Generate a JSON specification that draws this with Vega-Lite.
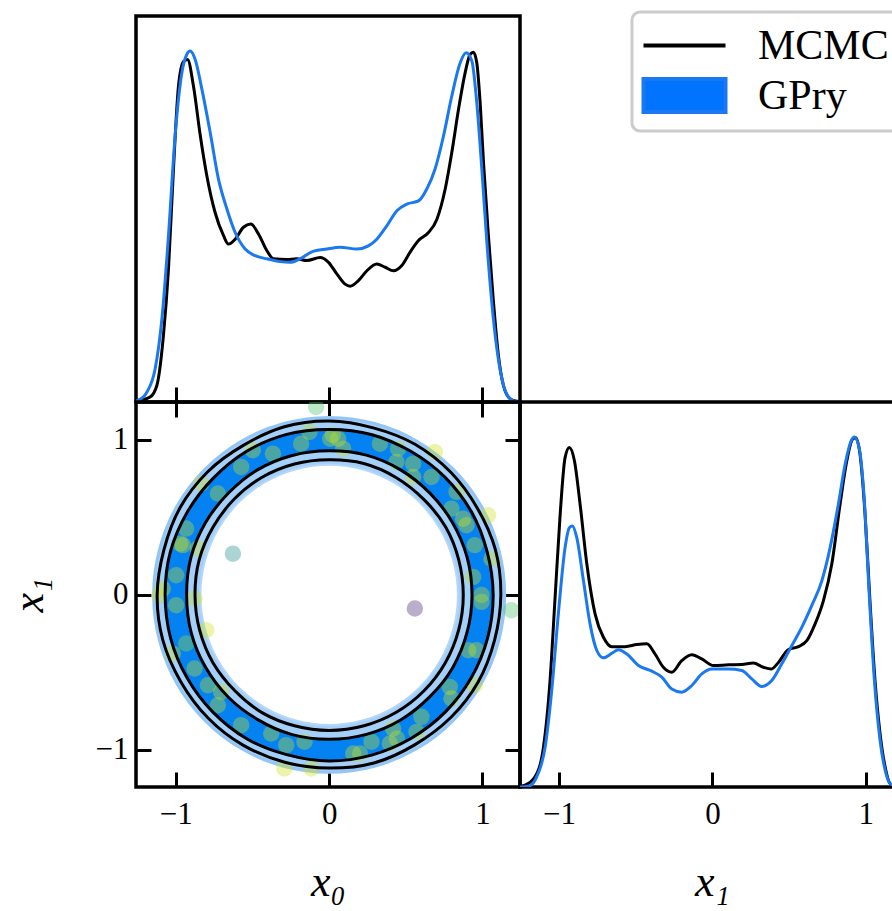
{
  "$schema": "https://vega.github.io/schema/vega-lite/v6.json",
  "background": "white",
  "padding": {"left": 5, "top": 8, "right": 0, "bottom": 0},
  "config": {
    "view": {"stroke": "black", "strokeWidth": 3.5},
    "axis": {"domain": false, "grid": false, "ticks": true, "tickColor": "black", "tickWidth": 3, "tickSize": -15, "format": ".0f",
      "labelFont": "Liberation Serif", "labelFontSize": 31, "labelColor": "black", "labelPadding": 27,
      "titleFont": "Liberation Serif", "titleFontSize": 44, "titleFontStyle": "italic", "titleFontWeight": "normal", "titleColor": "black", "titlePadding": 31}
  },
  "datasets": {
    "m0": [
      {"s":"MCMC","x":-1.255,"p":0.002},{"s":"MCMC","x":-1.233,"p":0.005},{"s":"MCMC","x":-1.168,"p":0.014},{"s":"MCMC","x":-1.124,"p":0.047},{"s":"MCMC","x":-1.081,"p":0.19},{"s":"MCMC","x":-1.048,"p":0.38},{"s":"MCMC","x":-1.016,"p":0.66},{"s":"MCMC","x":-0.983,"p":0.9},{"s":"MCMC","x":-0.95,"p":0.97},{"s":"MCMC","x":-0.924,"p":0.976},{"s":"MCMC","x":-0.885,"p":0.9},{"s":"MCMC","x":-0.841,"p":0.76},{"s":"MCMC","x":-0.798,"p":0.645},{"s":"MCMC","x":-0.744,"p":0.54},{"s":"MCMC","x":-0.689,"p":0.474},{"s":"MCMC","x":-0.657,"p":0.45},{"s":"MCMC","x":-0.613,"p":0.464},{"s":"MCMC","x":-0.559,"p":0.498},{"s":"MCMC","x":-0.511,"p":0.507},{"s":"MCMC","x":-0.461,"p":0.479},{"s":"MCMC","x":-0.406,"p":0.431},{"s":"MCMC","x":-0.363,"p":0.408},{"s":"MCMC","x":-0.276,"p":0.406},{"s":"MCMC","x":-0.211,"p":0.408},{"s":"MCMC","x":-0.145,"p":0.403},{"s":"MCMC","x":-0.059,"p":0.412},{"s":"MCMC","x":-0.004,"p":0.398},{"s":"MCMC","x":0.05,"p":0.365},{"s":"MCMC","x":0.104,"p":0.336},{"s":"MCMC","x":0.137,"p":0.33},{"s":"MCMC","x":0.191,"p":0.346},{"s":"MCMC","x":0.246,"p":0.374},{"s":"MCMC","x":0.311,"p":0.393},{"s":"MCMC","x":0.365,"p":0.384},{"s":"MCMC","x":0.42,"p":0.374},{"s":"MCMC","x":0.474,"p":0.389},{"s":"MCMC","x":0.528,"p":0.427},{"s":"MCMC","x":0.583,"p":0.46},{"s":"MCMC","x":0.648,"p":0.483},{"s":"MCMC","x":0.703,"p":0.521},{"s":"MCMC","x":0.757,"p":0.607},{"s":"MCMC","x":0.8,"p":0.711},{"s":"MCMC","x":0.844,"p":0.834},{"s":"MCMC","x":0.887,"p":0.938},{"s":"MCMC","x":0.92,"p":0.991},{"s":"MCMC","x":0.941,"p":0.997},{"s":"MCMC","x":0.963,"p":0.967},{"s":"MCMC","x":0.985,"p":0.853},{"s":"MCMC","x":1.007,"p":0.682},{"s":"MCMC","x":1.039,"p":0.474},{"s":"MCMC","x":1.072,"p":0.284},{"s":"MCMC","x":1.104,"p":0.133},{"s":"MCMC","x":1.137,"p":0.047},{"s":"MCMC","x":1.181,"p":0.009},{"s":"MCMC","x":1.225,"p":0.002},{"s":"MCMC","x":1.245,"p":0.001},
      {"s":"GPry","x":-1.26,"p":0.003},{"s":"GPry","x":-1.244,"p":0.005},{"s":"GPry","x":-1.189,"p":0.028},{"s":"GPry","x":-1.135,"p":0.095},{"s":"GPry","x":-1.091,"p":0.237},{"s":"GPry","x":-1.048,"p":0.474},{"s":"GPry","x":-1.005,"p":0.758},{"s":"GPry","x":-0.961,"p":0.938},{"s":"GPry","x":-0.928,"p":0.991},{"s":"GPry","x":-0.907,"p":1.0},{"s":"GPry","x":-0.874,"p":0.976},{"s":"GPry","x":-0.83,"p":0.891},{"s":"GPry","x":-0.776,"p":0.768},{"s":"GPry","x":-0.722,"p":0.635},{"s":"GPry","x":-0.667,"p":0.55},{"s":"GPry","x":-0.613,"p":0.483},{"s":"GPry","x":-0.548,"p":0.436},{"s":"GPry","x":-0.483,"p":0.417},{"s":"GPry","x":-0.406,"p":0.408},{"s":"GPry","x":-0.32,"p":0.4},{"s":"GPry","x":-0.254,"p":0.398},{"s":"GPry","x":-0.189,"p":0.408},{"s":"GPry","x":-0.113,"p":0.428},{"s":"GPry","x":-0.015,"p":0.436},{"s":"GPry","x":0.072,"p":0.441},{"s":"GPry","x":0.181,"p":0.436},{"s":"GPry","x":0.256,"p":0.445},{"s":"GPry","x":0.311,"p":0.464},{"s":"GPry","x":0.376,"p":0.502},{"s":"GPry","x":0.442,"p":0.545},{"s":"GPry","x":0.507,"p":0.564},{"s":"GPry","x":0.583,"p":0.573},{"s":"GPry","x":0.637,"p":0.607},{"s":"GPry","x":0.691,"p":0.664},{"s":"GPry","x":0.746,"p":0.758},{"s":"GPry","x":0.8,"p":0.872},{"s":"GPry","x":0.855,"p":0.967},{"s":"GPry","x":0.894,"p":0.995},{"s":"GPry","x":0.931,"p":0.972},{"s":"GPry","x":0.963,"p":0.853},{"s":"GPry","x":0.996,"p":0.664},{"s":"GPry","x":1.029,"p":0.455},{"s":"GPry","x":1.061,"p":0.284},{"s":"GPry","x":1.094,"p":0.152},{"s":"GPry","x":1.127,"p":0.066},{"s":"GPry","x":1.17,"p":0.014},{"s":"GPry","x":1.213,"p":0.002},{"s":"GPry","x":1.245,"p":0.001}
    ],
    "m1": [
      {"s":"MCMC","x":-1.255,"p":0.002},{"s":"MCMC","x":-1.222,"p":0.005},{"s":"MCMC","x":-1.157,"p":0.029},{"s":"MCMC","x":-1.102,"p":0.114},{"s":"MCMC","x":-1.059,"p":0.304},{"s":"MCMC","x":-1.026,"p":0.542},{"s":"MCMC","x":-0.993,"p":0.779},{"s":"MCMC","x":-0.961,"p":0.941},{"s":"MCMC","x":-0.933,"p":0.97},{"s":"MCMC","x":-0.9,"p":0.932},{"s":"MCMC","x":-0.863,"p":0.808},{"s":"MCMC","x":-0.819,"p":0.637},{"s":"MCMC","x":-0.765,"p":0.494},{"s":"MCMC","x":-0.711,"p":0.428},{"s":"MCMC","x":-0.656,"p":0.401},{"s":"MCMC","x":-0.569,"p":0.401},{"s":"MCMC","x":-0.493,"p":0.407},{"s":"MCMC","x":-0.428,"p":0.409},{"s":"MCMC","x":-0.374,"p":0.38},{"s":"MCMC","x":-0.32,"p":0.342},{"s":"MCMC","x":-0.265,"p":0.328},{"s":"MCMC","x":-0.2,"p":0.361},{"s":"MCMC","x":-0.134,"p":0.378},{"s":"MCMC","x":-0.069,"p":0.366},{"s":"MCMC","x":0.007,"p":0.347},{"s":"MCMC","x":0.105,"p":0.349},{"s":"MCMC","x":0.192,"p":0.35},{"s":"MCMC","x":0.267,"p":0.354},{"s":"MCMC","x":0.333,"p":0.342},{"s":"MCMC","x":0.383,"p":0.337},{"s":"MCMC","x":0.431,"p":0.356},{"s":"MCMC","x":0.496,"p":0.393},{"s":"MCMC","x":0.561,"p":0.401},{"s":"MCMC","x":0.616,"p":0.418},{"s":"MCMC","x":0.67,"p":0.466},{"s":"MCMC","x":0.724,"p":0.532},{"s":"MCMC","x":0.779,"p":0.637},{"s":"MCMC","x":0.833,"p":0.808},{"s":"MCMC","x":0.877,"p":0.932},{"s":"MCMC","x":0.913,"p":0.993},{"s":"MCMC","x":0.935,"p":0.998},{"s":"MCMC","x":0.963,"p":0.951},{"s":"MCMC","x":0.996,"p":0.779},{"s":"MCMC","x":1.029,"p":0.523},{"s":"MCMC","x":1.061,"p":0.304},{"s":"MCMC","x":1.094,"p":0.152},{"s":"MCMC","x":1.127,"p":0.057},{"s":"MCMC","x":1.159,"p":0.01},{"s":"MCMC","x":1.2,"p":0.002},{"s":"MCMC","x":1.25,"p":0.0},
      {"s":"GPry","x":-1.255,"p":0.0},{"s":"GPry","x":-1.2,"p":0.002},{"s":"GPry","x":-1.146,"p":0.029},{"s":"GPry","x":-1.091,"p":0.114},{"s":"GPry","x":-1.048,"p":0.276},{"s":"GPry","x":-1.005,"p":0.494},{"s":"GPry","x":-0.961,"p":0.684},{"s":"GPry","x":-0.933,"p":0.741},{"s":"GPry","x":-0.913,"p":0.746},{"s":"GPry","x":-0.885,"p":0.713},{"s":"GPry","x":-0.841,"p":0.589},{"s":"GPry","x":-0.798,"p":0.466},{"s":"GPry","x":-0.754,"p":0.39},{"s":"GPry","x":-0.711,"p":0.369},{"s":"GPry","x":-0.656,"p":0.382},{"s":"GPry","x":-0.613,"p":0.392},{"s":"GPry","x":-0.558,"p":0.38},{"s":"GPry","x":-0.482,"p":0.347},{"s":"GPry","x":-0.395,"p":0.331},{"s":"GPry","x":-0.33,"p":0.314},{"s":"GPry","x":-0.265,"p":0.28},{"s":"GPry","x":-0.2,"p":0.271},{"s":"GPry","x":-0.134,"p":0.29},{"s":"GPry","x":-0.069,"p":0.323},{"s":"GPry","x":-0.004,"p":0.337},{"s":"GPry","x":0.105,"p":0.337},{"s":"GPry","x":0.192,"p":0.333},{"s":"GPry","x":0.257,"p":0.309},{"s":"GPry","x":0.322,"p":0.287},{"s":"GPry","x":0.387,"p":0.304},{"s":"GPry","x":0.453,"p":0.352},{"s":"GPry","x":0.518,"p":0.404},{"s":"GPry","x":0.583,"p":0.456},{"s":"GPry","x":0.648,"p":0.518},{"s":"GPry","x":0.714,"p":0.589},{"s":"GPry","x":0.768,"p":0.684},{"s":"GPry","x":0.822,"p":0.808},{"s":"GPry","x":0.866,"p":0.922},{"s":"GPry","x":0.905,"p":0.989},{"s":"GPry","x":0.926,"p":1.0},{"s":"GPry","x":0.957,"p":0.97},{"s":"GPry","x":0.99,"p":0.827},{"s":"GPry","x":1.022,"p":0.561},{"s":"GPry","x":1.057,"p":0.304},{"s":"GPry","x":1.094,"p":0.133},{"s":"GPry","x":1.127,"p":0.048},{"s":"GPry","x":1.159,"p":0.01},{"s":"GPry","x":1.2,"p":0.002},{"s":"GPry","x":1.25,"p":0.0}
    ],
    "rings": [
      {"r":"g2o","i":0,"x":1.145,"y":0},{"r":"g2o","i":1,"x":1.106,"y":0.296},{"r":"g2o","i":2,"x":0.992,"y":0.573},{"r":"g2o","i":3,"x":0.81,"y":0.81},{"r":"g2o","i":4,"x":0.573,"y":0.992},{"r":"g2o","i":5,"x":0.296,"y":1.106},{"r":"g2o","i":6,"x":0,"y":1.145},{"r":"g2o","i":7,"x":-0.296,"y":1.106},{"r":"g2o","i":8,"x":-0.573,"y":0.992},{"r":"g2o","i":9,"x":-0.81,"y":0.81},{"r":"g2o","i":10,"x":-0.992,"y":0.573},{"r":"g2o","i":11,"x":-1.106,"y":0.296},{"r":"g2o","i":12,"x":-1.145,"y":0},{"r":"g2o","i":13,"x":-1.106,"y":-0.296},{"r":"g2o","i":14,"x":-0.992,"y":-0.573},{"r":"g2o","i":15,"x":-0.81,"y":-0.81},{"r":"g2o","i":16,"x":-0.573,"y":-0.992},{"r":"g2o","i":17,"x":-0.296,"y":-1.106},{"r":"g2o","i":18,"x":0,"y":-1.145},{"r":"g2o","i":19,"x":0.296,"y":-1.106},{"r":"g2o","i":20,"x":0.573,"y":-0.992},{"r":"g2o","i":21,"x":0.81,"y":-0.81},{"r":"g2o","i":22,"x":0.992,"y":-0.573},{"r":"g2o","i":23,"x":1.106,"y":-0.296},
      {"r":"g1o","i":0,"x":1.075,"y":0},{"r":"g1o","i":1,"x":1.038,"y":0.278},{"r":"g1o","i":2,"x":0.931,"y":0.538},{"r":"g1o","i":3,"x":0.76,"y":0.76},{"r":"g1o","i":4,"x":0.538,"y":0.931},{"r":"g1o","i":5,"x":0.278,"y":1.038},{"r":"g1o","i":6,"x":0,"y":1.075},{"r":"g1o","i":7,"x":-0.278,"y":1.038},{"r":"g1o","i":8,"x":-0.538,"y":0.931},{"r":"g1o","i":9,"x":-0.76,"y":0.76},{"r":"g1o","i":10,"x":-0.931,"y":0.538},{"r":"g1o","i":11,"x":-1.038,"y":0.278},{"r":"g1o","i":12,"x":-1.075,"y":0},{"r":"g1o","i":13,"x":-1.038,"y":-0.278},{"r":"g1o","i":14,"x":-0.931,"y":-0.538},{"r":"g1o","i":15,"x":-0.76,"y":-0.76},{"r":"g1o","i":16,"x":-0.538,"y":-0.931},{"r":"g1o","i":17,"x":-0.278,"y":-1.038},{"r":"g1o","i":18,"x":0,"y":-1.075},{"r":"g1o","i":19,"x":0.278,"y":-1.038},{"r":"g1o","i":20,"x":0.538,"y":-0.931},{"r":"g1o","i":21,"x":0.76,"y":-0.76},{"r":"g1o","i":22,"x":0.931,"y":-0.538},{"r":"g1o","i":23,"x":1.038,"y":-0.278},
      {"r":"g1i","i":0,"x":0.93,"y":0},{"r":"g1i","i":1,"x":0.898,"y":0.241},{"r":"g1i","i":2,"x":0.805,"y":0.465},{"r":"g1i","i":3,"x":0.658,"y":0.658},{"r":"g1i","i":4,"x":0.465,"y":0.805},{"r":"g1i","i":5,"x":0.241,"y":0.898},{"r":"g1i","i":6,"x":0,"y":0.93},{"r":"g1i","i":7,"x":-0.241,"y":0.898},{"r":"g1i","i":8,"x":-0.465,"y":0.805},{"r":"g1i","i":9,"x":-0.658,"y":0.658},{"r":"g1i","i":10,"x":-0.805,"y":0.465},{"r":"g1i","i":11,"x":-0.898,"y":0.241},{"r":"g1i","i":12,"x":-0.93,"y":0},{"r":"g1i","i":13,"x":-0.898,"y":-0.241},{"r":"g1i","i":14,"x":-0.805,"y":-0.465},{"r":"g1i","i":15,"x":-0.658,"y":-0.658},{"r":"g1i","i":16,"x":-0.465,"y":-0.805},{"r":"g1i","i":17,"x":-0.241,"y":-0.898},{"r":"g1i","i":18,"x":0,"y":-0.93},{"r":"g1i","i":19,"x":0.241,"y":-0.898},{"r":"g1i","i":20,"x":0.465,"y":-0.805},{"r":"g1i","i":21,"x":0.658,"y":-0.658},{"r":"g1i","i":22,"x":0.805,"y":-0.465},{"r":"g1i","i":23,"x":0.898,"y":-0.241},
      {"r":"g2i","i":0,"x":0.84,"y":0},{"r":"g2i","i":1,"x":0.811,"y":0.217},{"r":"g2i","i":2,"x":0.727,"y":0.42},{"r":"g2i","i":3,"x":0.594,"y":0.594},{"r":"g2i","i":4,"x":0.42,"y":0.727},{"r":"g2i","i":5,"x":0.217,"y":0.811},{"r":"g2i","i":6,"x":0,"y":0.84},{"r":"g2i","i":7,"x":-0.217,"y":0.811},{"r":"g2i","i":8,"x":-0.42,"y":0.727},{"r":"g2i","i":9,"x":-0.594,"y":0.594},{"r":"g2i","i":10,"x":-0.727,"y":0.42},{"r":"g2i","i":11,"x":-0.811,"y":0.217},{"r":"g2i","i":12,"x":-0.84,"y":0},{"r":"g2i","i":13,"x":-0.811,"y":-0.217},{"r":"g2i","i":14,"x":-0.727,"y":-0.42},{"r":"g2i","i":15,"x":-0.594,"y":-0.594},{"r":"g2i","i":16,"x":-0.42,"y":-0.727},{"r":"g2i","i":17,"x":-0.217,"y":-0.811},{"r":"g2i","i":18,"x":0,"y":-0.84},{"r":"g2i","i":19,"x":0.217,"y":-0.811},{"r":"g2i","i":20,"x":0.42,"y":-0.727},{"r":"g2i","i":21,"x":0.594,"y":-0.594},{"r":"g2i","i":22,"x":0.727,"y":-0.42},{"r":"g2i","i":23,"x":0.811,"y":-0.217},
      {"r":"m2o","i":0,"x":1.12,"y":0},{"r":"m2o","i":1,"x":1.085,"y":0.29},{"r":"m2o","i":2,"x":0.968,"y":0.558},{"r":"m2o","i":3,"x":0.795,"y":0.79},{"r":"m2o","i":4,"x":0.56,"y":0.972},{"r":"m2o","i":5,"x":0.288,"y":1.078},{"r":"m2o","i":6,"x":0,"y":1.122},{"r":"m2o","i":7,"x":-0.292,"y":1.085},{"r":"m2o","i":8,"x":-0.56,"y":0.965},{"r":"m2o","i":9,"x":-0.792,"y":0.795},{"r":"m2o","i":10,"x":-0.973,"y":0.562},{"r":"m2o","i":11,"x":-1.078,"y":0.29},{"r":"m2o","i":12,"x":-1.122,"y":0},{"r":"m2o","i":13,"x":-1.085,"y":-0.292},{"r":"m2o","i":14,"x":-0.968,"y":-0.56},{"r":"m2o","i":15,"x":-0.79,"y":-0.795},{"r":"m2o","i":16,"x":-0.562,"y":-0.97},{"r":"m2o","i":17,"x":-0.29,"y":-1.08},{"r":"m2o","i":18,"x":0,"y":-1.118},{"r":"m2o","i":19,"x":0.292,"y":-1.085},{"r":"m2o","i":20,"x":0.558,"y":-0.968},{"r":"m2o","i":21,"x":0.795,"y":-0.79},{"r":"m2o","i":22,"x":0.972,"y":-0.562},{"r":"m2o","i":23,"x":1.08,"y":-0.288},
      {"r":"m1o","i":0,"x":1.07,"y":0},{"r":"m1o","i":1,"x":1.031,"y":0.277},{"r":"m1o","i":2,"x":0.93,"y":0.533},{"r":"m1o","i":3,"x":0.755,"y":0.76},{"r":"m1o","i":4,"x":0.535,"y":0.925},{"r":"m1o","i":5,"x":0.28,"y":1.034},{"r":"m1o","i":6,"x":0,"y":1.068},{"r":"m1o","i":7,"x":-0.277,"y":1.036},{"r":"m1o","i":8,"x":-0.538,"y":0.927},{"r":"m1o","i":9,"x":-0.757,"y":0.752},{"r":"m1o","i":10,"x":-0.925,"y":0.535},{"r":"m1o","i":11,"x":-1.036,"y":0.277},{"r":"m1o","i":12,"x":-1.07,"y":0},{"r":"m1o","i":13,"x":-1.034,"y":-0.28},{"r":"m1o","i":14,"x":-0.927,"y":-0.535},{"r":"m1o","i":15,"x":-0.76,"y":-0.755},{"r":"m1o","i":16,"x":-0.535,"y":-0.93},{"r":"m1o","i":17,"x":-0.277,"y":-1.031},{"r":"m1o","i":18,"x":0,"y":-1.072},{"r":"m1o","i":19,"x":0.277,"y":-1.034},{"r":"m1o","i":20,"x":0.533,"y":-0.927},{"r":"m1o","i":21,"x":0.757,"y":-0.757},{"r":"m1o","i":22,"x":0.927,"y":-0.535},{"r":"m1o","i":23,"x":1.034,"y":-0.277},
      {"r":"m1i","i":0,"x":0.932,"y":0},{"r":"m1i","i":1,"x":0.9,"y":0.243},{"r":"m1i","i":2,"x":0.805,"y":0.466},{"r":"m1i","i":3,"x":0.659,"y":0.655},{"r":"m1i","i":4,"x":0.466,"y":0.807},{"r":"m1i","i":5,"x":0.243,"y":0.902},{"r":"m1i","i":6,"x":0,"y":0.93},{"r":"m1i","i":7,"x":-0.241,"y":0.9},{"r":"m1i","i":8,"x":-0.468,"y":0.807},{"r":"m1i","i":9,"x":-0.655,"y":0.659},{"r":"m1i","i":10,"x":-0.807,"y":0.466},{"r":"m1i","i":11,"x":-0.902,"y":0.241},{"r":"m1i","i":12,"x":-0.93,"y":0},{"r":"m1i","i":13,"x":-0.9,"y":-0.243},{"r":"m1i","i":14,"x":-0.807,"y":-0.466},{"r":"m1i","i":15,"x":-0.659,"y":-0.659},{"r":"m1i","i":16,"x":-0.466,"y":-0.805},{"r":"m1i","i":17,"x":-0.241,"y":-0.902},{"r":"m1i","i":18,"x":0,"y":-0.932},{"r":"m1i","i":19,"x":0.243,"y":-0.9},{"r":"m1i","i":20,"x":0.466,"y":-0.807},{"r":"m1i","i":21,"x":0.659,"y":-0.655},{"r":"m1i","i":22,"x":0.807,"y":-0.468},{"r":"m1i","i":23,"x":0.9,"y":-0.241},
      {"r":"m2i","i":0,"x":0.875,"y":0},{"r":"m2i","i":1,"x":0.845,"y":0.228},{"r":"m2i","i":2,"x":0.76,"y":0.438},{"r":"m2i","i":3,"x":0.619,"y":0.615},{"r":"m2i","i":4,"x":0.436,"y":0.758},{"r":"m2i","i":5,"x":0.226,"y":0.848},{"r":"m2i","i":6,"x":0,"y":0.872},{"r":"m2i","i":7,"x":-0.226,"y":0.845},{"r":"m2i","i":8,"x":-0.44,"y":0.758},{"r":"m2i","i":9,"x":-0.619,"y":0.619},{"r":"m2i","i":10,"x":-0.758,"y":0.436},{"r":"m2i","i":11,"x":-0.848,"y":0.226},{"r":"m2i","i":12,"x":-0.875,"y":0},{"r":"m2i","i":13,"x":-0.845,"y":-0.228},{"r":"m2i","i":14,"x":-0.758,"y":-0.438},{"r":"m2i","i":15,"x":-0.615,"y":-0.619},{"r":"m2i","i":16,"x":-0.438,"y":-0.76},{"r":"m2i","i":17,"x":-0.226,"y":-0.845},{"r":"m2i","i":18,"x":0,"y":-0.875},{"r":"m2i","i":19,"x":0.228,"y":-0.845},{"r":"m2i","i":20,"x":0.438,"y":-0.758},{"r":"m2i","i":21,"x":0.619,"y":-0.619},{"r":"m2i","i":22,"x":0.758,"y":-0.438},{"r":"m2i","i":23,"x":0.845,"y":-0.226}
    ],
    "dots": [
      {"x":-0.085,"y":1.213,"v":0.72},{"x":-0.128,"y":1.052,"v":0.9},{"x":-0.183,"y":0.976,"v":0.9},{"x":0.024,"y":1.032,"v":0.9},{"x":-0.367,"y":0.912,"v":0.9},{"x":-0.498,"y":0.934,"v":0.92},{"x":-0.574,"y":0.826,"v":0.9},{"x":-0.726,"y":0.654,"v":0.9},{"x":-0.835,"y":0.718,"v":0.93},{"x":-0.933,"y":0.428,"v":0.9},{"x":-0.954,"y":0.321,"v":0.93},{"x":-0.857,"y":0.299,"v":0.93},{"x":-0.628,"y":0.266,"v":0.5},{"x":-0.998,"y":0.127,"v":0.9},{"x":-1.085,"y":0.041,"v":0.93},
      {"x":0.059,"y":1.008,"v":0.9},{"x":0.091,"y":0.944,"v":0.93},{"x":0.331,"y":0.976,"v":0.9},{"x":0.45,"y":0.944,"v":0.9},{"x":0.689,"y":0.923,"v":0.93},{"x":0.439,"y":0.858,"v":0.9},{"x":0.548,"y":0.847,"v":0.9},{"x":0.548,"y":0.761,"v":0.93},{"x":0.668,"y":0.761,"v":0.9},{"x":0.831,"y":0.665,"v":0.9},{"x":0.798,"y":0.557,"v":0.9},{"x":0.874,"y":0.492,"v":0.93},{"x":1.037,"y":0.514,"v":0.93},{"x":0.896,"y":0.45,"v":0.93},{"x":0.95,"y":0.321,"v":0.9},{"x":1.059,"y":0.234,"v":0.93},{"x":0.939,"y":0.116,"v":0.9},{"x":0.994,"y":0.0,"v":0.9},
      {"x":-1.107,"y":-0.002,"v":0.93},{"x":-0.998,"y":-0.067,"v":0.9},{"x":-0.878,"y":-0.024,"v":0.93},{"x":-0.802,"y":-0.228,"v":0.93},{"x":-0.933,"y":-0.314,"v":0.85},{"x":-1.02,"y":-0.379,"v":0.93},{"x":-0.878,"y":-0.475,"v":0.9},{"x":-0.791,"y":-0.583,"v":0.9},{"x":-0.705,"y":-0.626,"v":0.93},{"x":-0.726,"y":-0.712,"v":0.9},{"x":-0.574,"y":-0.841,"v":0.9},{"x":-0.378,"y":-0.895,"v":0.9},{"x":-0.28,"y":-0.97,"v":0.9},{"x":-0.161,"y":-0.948,"v":0.9},{"x":-0.292,"y":-1.121,"v":0.93},{"x":-0.117,"y":-1.121,"v":0.93},
      {"x":0.559,"y":-0.088,"v":0.12},{"x":1.189,"y":-0.099,"v":0.72},{"x":0.994,"y":-0.045,"v":0.9},{"x":0.961,"y":-0.357,"v":0.93},{"x":0.907,"y":-0.357,"v":0.9},{"x":0.95,"y":-0.583,"v":0.93},{"x":0.787,"y":-0.594,"v":0.9},{"x":0.798,"y":-0.669,"v":0.93},{"x":0.602,"y":-0.787,"v":0.9},{"x":0.417,"y":-0.862,"v":0.93},{"x":0.57,"y":-0.884,"v":0.9},{"x":0.396,"y":-0.959,"v":0.93},{"x":0.276,"y":-0.948,"v":0.9},{"x":0.157,"y":-1.024,"v":0.93},{"x":0.202,"y":-1.024,"v":0.9},{"x":0.442,"y":-0.927,"v":0.9},{"x":0.007,"y":1.008,"v":0.9},{"x":-0.972,"y":0.331,"v":0.9}
    ]
  },
  "resolve": {"scale": {"color": "independent"}, "legend": {"color": "independent"}},
  "spacing": 0,
  "bounds": "flush",
  "vconcat": [
    {
      "width": 384, "height": 386,
      "data": {"name": "m0"},
      "layer": [
        {
          "transform": [{"filter": "datum.s === 'MCMC'"}],
          "mark": {"type": "line", "interpolate": "monotone", "strokeWidth": 3, "clip": true},
          "encoding": {
            "x": {"field": "x", "type": "quantitative", "scale": {"domain": [-1.26, 1.245], "nice": false, "zero": false}, "axis": {"values": [-1, 0, 1], "labels": false, "title": null}},
            "y": {"field": "p", "type": "quantitative", "scale": {"domain": [0, 1.1], "nice": false}, "axis": null},
            "color": {"field": "s", "type": "nominal", "scale": {"domain": ["MCMC", "GPry"], "range": ["black", "#1a78f0"]},
              "legend": {"orient": "none", "legendX": 496, "legendY": -4, "title": null, "direction": "vertical",
                "labelFont": "Liberation Serif", "labelFontSize": 42, "labelColor": "black", "labelLimit": 400,
                "symbolSize": 1681, "symbolStrokeWidth": 4, "symbolOffset": 19, "labelOffset": 51,
                "padding": 11, "rowPadding": 4, "strokeColor": "#cccccc", "fillColor": "white", "cornerRadius": 8,
                "encode": {
                  "legend": {"update": {"strokeWidth": {"value": 3}}},
                  "symbols": {"update": {
                    "shape": {"signal": "datum.value === 'GPry' ? 'M-2,-0.8H2V0.8H-2Z' : 'M-2,0H2'"},
                    "fill": {"signal": "datum.value === 'GPry' ? '#0073ff' : 'transparent'"},
                    "stroke": {"signal": "datum.value === 'GPry' ? 'transparent' : 'black'"},
                    "opacity": {"value": 1}
                  }}
                }}}
          }
        },
        {
          "transform": [{"filter": "datum.s === 'GPry'"}],
          "mark": {"type": "line", "interpolate": "monotone", "strokeWidth": 3, "clip": true},
          "encoding": {
            "x": {"field": "x", "type": "quantitative"},
            "y": {"field": "p", "type": "quantitative"},
            "color": {"field": "s", "type": "nominal"}
          }
        }
      ]
    },
    {
      "spacing": 0,
      "bounds": "flush",
      "hconcat": [
        {
          "width": 384, "height": 385,
          "resolve": {"axis": {"x": "independent", "y": "independent"}},
          "layer": [
            {
              "data": {"name": "rings"},
              "transform": [{"filter": "datum.r === 'g2o'"}],
              "mark": {"type": "line", "interpolate": "cardinal-closed", "fill": "#a3cff8", "stroke": "#93c6f6", "strokeWidth": 3, "clip": true},
              "encoding": {
                "x": {"field": "x", "type": "quantitative", "scale": {"domain": [-1.26, 1.245], "nice": false, "zero": false}, "axis": {"values": [-1, 0, 1], "title": "x₀", "orient": "bottom"}},
                "y": {"field": "y", "type": "quantitative", "scale": {"domain": [-1.24, 1.245], "nice": false, "zero": false}, "axis": {"values": [-1, 0, 1], "title": "x₁", "orient": "left", "labelPadding": 23, "titlePadding": 44}},
                "order": {"field": "i", "type": "quantitative"}
              }
            },
            {
              "data": {"name": "rings"},
              "transform": [{"filter": "datum.r === 'g1o'"}],
              "mark": {"type": "line", "interpolate": "cardinal-closed", "fill": "#0582f2", "stroke": null, "clip": true},
              "encoding": {
                "x": {"field": "x", "type": "quantitative", "axis": null},
                "y": {"field": "y", "type": "quantitative", "axis": null},
                "order": {"field": "i", "type": "quantitative"}
              }
            },
            {
              "data": {"name": "rings"},
              "transform": [{"filter": "datum.r === 'g1i'"}],
              "mark": {"type": "line", "interpolate": "cardinal-closed", "fill": "#a3cff8", "stroke": null, "clip": true},
              "encoding": {
                "x": {"field": "x", "type": "quantitative", "axis": null},
                "y": {"field": "y", "type": "quantitative", "axis": null},
                "order": {"field": "i", "type": "quantitative"}
              }
            },
            {
              "data": {"name": "rings"},
              "transform": [{"filter": "datum.r === 'g2i'"}],
              "mark": {"type": "line", "interpolate": "cardinal-closed", "fill": "white", "stroke": "#b5d8f9", "strokeWidth": 2, "clip": true},
              "encoding": {
                "x": {"field": "x", "type": "quantitative", "axis": null},
                "y": {"field": "y", "type": "quantitative", "axis": null},
                "order": {"field": "i", "type": "quantitative"}
              }
            },
            {
              "data": {"name": "dots"},
              "mark": {"type": "circle", "size": 270, "opacity": 0.38, "clip": true},
              "encoding": {
                "x": {"field": "x", "type": "quantitative", "axis": null},
                "y": {"field": "y", "type": "quantitative", "axis": null},
                "color": {"field": "v", "type": "quantitative", "scale": {"scheme": "viridis", "domain": [0, 1]}, "legend": null}
              }
            },
            {
              "data": {"name": "rings"},
              "transform": [{"filter": "indexof(datum.r, 'm') === 0"}],
              "mark": {"type": "line", "interpolate": "cardinal-closed", "stroke": "black", "strokeWidth": 3, "clip": true},
              "encoding": {
                "x": {"field": "x", "type": "quantitative", "axis": {"values": [-1, 0, 1], "labels": false, "title": null, "orient": "top"}},
                "y": {"field": "y", "type": "quantitative", "axis": {"values": [-1, 0, 1], "labels": false, "title": null, "orient": "right"}},
                "detail": {"field": "r", "type": "nominal"},
                "order": {"field": "i", "type": "quantitative"}
              }
            }
          ]
        },
        {
          "width": 384, "height": 385,
          "data": {"name": "m1"},
          "layer": [
            {
              "transform": [{"filter": "datum.s === 'MCMC'"}],
              "mark": {"type": "line", "interpolate": "monotone", "strokeWidth": 3, "clip": true},
              "encoding": {
                "x": {"field": "x", "type": "quantitative", "scale": {"domain": [-1.255, 1.25], "nice": false, "zero": false}, "axis": {"values": [-1, 0, 1], "title": "x₁"}},
                "y": {"field": "p", "type": "quantitative", "scale": {"domain": [0, 1.1], "nice": false}, "axis": null},
                "color": {"field": "s", "type": "nominal", "scale": {"domain": ["MCMC", "GPry"], "range": ["black", "#1a78f0"]}, "legend": null}
              }
            },
            {
              "transform": [{"filter": "datum.s === 'GPry'"}],
              "mark": {"type": "line", "interpolate": "monotone", "strokeWidth": 3, "clip": true},
              "encoding": {
                "x": {"field": "x", "type": "quantitative"},
                "y": {"field": "p", "type": "quantitative"},
                "color": {"field": "s", "type": "nominal"}
              }
            }
          ]
        }
      ]
    }
  ]
}
